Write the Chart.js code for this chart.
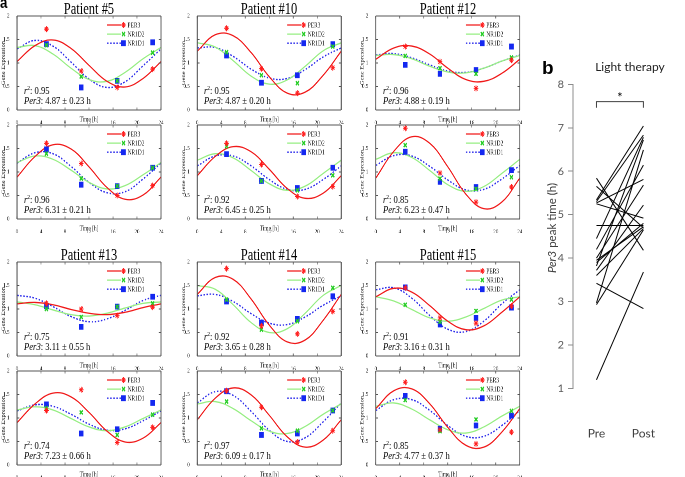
<!DOCTYPE html>
<html>
<head>
<meta charset="utf-8">
<script src="https://cdn.jsdelivr.net/npm/chart.js"></script>
<style>
  html, body { margin: 0; padding: 0; background: #fff; }
  body { width: 685px; height: 477px; position: relative; overflow: hidden; }
  #panelA { position: absolute; left: 0; top: 0; width: 667px; height: 477px; transform: scaleX(0.78); transform-origin: 0 0; }
  .abs { position: absolute; white-space: nowrap; }
  .serif { font-family: 'Liberation Serif', 'Times New Roman', serif; color: #000; }
  .title { font-size: 16px; line-height: 16px; text-align: center; }
  .note { font-size: 11px; line-height: 11px; }
  .sup { font-size: 7px; position: relative; top: -4px; }
  .lato { font-family: Lato, 'Open Sans', sans-serif; color: #404040; }
</style>
</head>
<body>
<div id="panelA"></div>
<div id="panelB" class="abs" style="left:0;top:0;width:685px;height:477px;"></div>
<script>
// ---- data (panels in row-major order: rows 1-2 = patients 5/10/12, rows 3-4 = 13/14/15)
const patientNames = ['Patient #5', 'Patient #10', 'Patient #12', 'Patient #13', 'Patient #14', 'Patient #15'];
const timeTicks = [0, 4, 8, 12, 16, 20, 24];
const sampleTimes = [4.9, 10.7, 16.7, 22.6];
const fitTimes = [0, 3, 6, 9, 12, 15, 18, 21, 24];

const r2Vals = ['0.95', '0.95', '0.96', '0.96', '0.92', '0.85', '0.75', '0.92', '0.91', '0.74', '0.97', '0.85'];
const per3Peak = ['4.87 ± 0.23', '4.87 ± 0.20', '4.88 ± 0.19', '6.31 ± 0.21', '6.45 ± 0.25', '6.23 ± 0.47',
                  '3.11 ± 0.55', '3.65 ± 0.28', '3.16 ± 0.31', '7.23 ± 0.66', '6.09 ± 0.17', '4.77 ± 0.37'];

const per3Pts = [
  [1.72, 0.83, 0.48, 0.87], [1.74, 0.88, 0.36, 0.90], [1.35, 1.03, 0.46, 1.06],
  [1.61, 1.18, 0.50, 0.71], [1.61, 1.16, 0.48, 0.69], [1.93, 0.98, 0.36, 0.68],
  [1.12, 1.00, 0.86, 1.04], [1.86, 0.64, 0.47, 0.95], [1.45, 0.81, 0.70, 1.06],
  [1.16, 1.60, 0.48, 0.80], [1.58, 1.23, 0.49, 0.73], [1.76, 0.75, 0.45, 0.70]
];
const nr1d2Pts = [
  [1.38, 0.71, 0.62, 1.22], [1.23, 0.74, 0.57, 1.35], [1.15, 0.89, 0.77, 1.12],
  [1.39, 0.86, 0.70, 1.09], [1.55, 0.81, 0.61, 0.93], [1.57, 0.86, 0.64, 0.89],
  [1.00, 0.83, 1.05, 1.12], [1.20, 0.56, 0.74, 1.45], [1.09, 0.73, 0.96, 1.20],
  [1.21, 1.12, 0.64, 1.07], [1.35, 0.78, 0.73, 1.16], [1.38, 0.72, 0.97, 1.15]
];
const nr1d1Pts = [
  [1.40, 0.48, 0.62, 1.44], [1.16, 0.58, 0.74, 1.40], [0.96, 0.77, 0.85, 1.35],
  [1.48, 0.73, 0.70, 1.09], [1.38, 0.81, 0.66, 1.09], [1.43, 0.79, 0.68, 1.04],
  [1.06, 0.62, 1.05, 1.26], [1.16, 0.71, 0.79, 1.27], [1.46, 0.67, 0.81, 1.03],
  [1.29, 0.67, 0.76, 1.32], [1.57, 0.64, 0.67, 1.16], [1.47, 0.77, 0.84, 1.05]
];

const per3Fit = [
  [1.03, 1.37, 1.49, 1.31, 0.95, 0.61, 0.49, 0.67, 1.03],
  [1.25, 1.60, 1.58, 1.22, 0.71, 0.36, 0.38, 0.74, 1.25],
  [1.08, 1.32, 1.36, 1.19, 0.89, 0.65, 0.61, 0.78, 1.08],
  [0.89, 1.33, 1.58, 1.49, 1.11, 0.67, 0.42, 0.51, 0.89],
  [0.92, 1.33, 1.54, 1.43, 1.06, 0.65, 0.44, 0.55, 0.92],
  [0.87, 1.44, 1.75, 1.61, 1.11, 0.53, 0.22, 0.36, 0.87],
  [1.11, 1.14, 1.09, 0.99, 0.91, 0.88, 0.93, 1.03, 1.11],
  [1.31, 1.67, 1.63, 1.21, 0.66, 0.30, 0.34, 0.76, 1.31],
  [1.26, 1.44, 1.36, 1.07, 0.74, 0.56, 0.64, 0.93, 1.26],
  [0.90, 1.30, 1.53, 1.45, 1.12, 0.72, 0.49, 0.57, 0.90],
  [0.96, 1.42, 1.64, 1.49, 1.06, 0.60, 0.38, 0.53, 0.96],
  [1.20, 1.58, 1.62, 1.30, 0.80, 0.42, 0.38, 0.70, 1.20]
];
const nr1d2Fit = [
  [1.33, 1.37, 1.19, 0.89, 0.65, 0.61, 0.80, 1.09, 1.33],
  [1.43, 1.34, 1.05, 0.72, 0.55, 0.64, 0.93, 1.26, 1.43],
  [1.16, 1.18, 1.09, 0.93, 0.81, 0.79, 0.89, 1.04, 1.16],
  [1.20, 1.34, 1.27, 1.04, 0.78, 0.64, 0.71, 0.94, 1.20],
  [1.25, 1.39, 1.30, 1.03, 0.75, 0.61, 0.70, 0.97, 1.25],
  [1.27, 1.41, 1.31, 1.03, 0.73, 0.59, 0.69, 0.97, 1.27],
  [1.15, 1.09, 0.98, 0.88, 0.85, 0.91, 1.02, 1.12, 1.15],
  [1.50, 1.42, 1.09, 0.71, 0.50, 0.58, 0.91, 1.29, 1.50],
  [1.26, 1.17, 0.99, 0.81, 0.74, 0.83, 1.01, 1.19, 1.26],
  [1.17, 1.24, 1.17, 0.99, 0.81, 0.73, 0.81, 0.99, 1.17],
  [1.30, 1.35, 1.20, 0.94, 0.72, 0.67, 0.82, 1.08, 1.30],
  [1.25, 1.32, 1.19, 0.96, 0.75, 0.68, 0.81, 1.04, 1.25]
];
const nr1d1Fit = [
  [1.30, 1.48, 1.36, 1.02, 0.66, 0.48, 0.60, 0.94, 1.30],
  [1.32, 1.33, 1.14, 0.87, 0.68, 0.67, 0.86, 1.13, 1.32],
  [1.17, 1.20, 1.11, 0.96, 0.83, 0.80, 0.89, 1.04, 1.17],
  [1.19, 1.41, 1.39, 1.12, 0.78, 0.56, 0.58, 0.85, 1.19],
  [1.13, 1.34, 1.34, 1.13, 0.84, 0.63, 0.63, 0.84, 1.13],
  [1.14, 1.35, 1.34, 1.12, 0.83, 0.62, 0.63, 0.85, 1.14],
  [1.29, 1.23, 1.05, 0.84, 0.73, 0.79, 0.97, 1.18, 1.29],
  [1.28, 1.31, 1.16, 0.90, 0.70, 0.67, 0.83, 1.08, 1.28],
  [1.41, 1.45, 1.23, 0.86, 0.57, 0.52, 0.74, 1.11, 1.41],
  [1.15, 1.28, 1.25, 1.08, 0.87, 0.74, 0.77, 0.94, 1.15],
  [1.32, 1.56, 1.48, 1.14, 0.74, 0.50, 0.58, 0.92, 1.32],
  [1.16, 1.39, 1.39, 1.16, 0.84, 0.61, 0.61, 0.84, 1.16]
];

// panel b: Per3 peak time per subject
const phaseLabels = ['Pre', 'Post'];
const prePeak  = [5.84, 5.65, 5.34, 5.30, 5.27, 5.25, 4.75, 4.45, 4.20, 4.00, 3.90, 3.82, 3.72, 3.60, 3.42, 2.97, 2.93, 1.20, 3.95];
const postPeak = [4.18, 4.70, 7.04, 6.83, 5.81, 4.92, 4.75, 6.78, 6.14, 5.68, 4.80, 6.72, 5.22, 4.68, 2.84, 6.49, 4.65, 3.68, 4.72];
const bracketLevel = 7.6;

// ---- layout (panel a is drawn squeezed horizontally, like the source figure)
const SQ = 0.78;
const colLeft = [17, 197, 376];
const rowTop = [16, 125, 262, 371];
const PW = 144, PH = 94;

const genes = [
  { name: 'PER3',  line: 'rgb(240,25,25)',   dash: [],     width: 1.3, mark: 'rgb(255,30,30)',  style: 'star',     r: 3,   bw: 1 },
  { name: 'NR1D2', line: 'rgb(150,238,130)', dash: [],     width: 1.3, mark: 'rgb(40,205,40)',  style: 'crossRot', r: 2.8, bw: 1.6 },
  { name: 'NR1D1', line: 'rgb(45,45,235)',   dash: [2, 2], width: 1.4, mark: 'rgb(20,40,240)',  style: 'rect',     r: 3.4, bw: 1 }
];

Chart.defaults.font.family = "'Liberation Serif', serif";
Chart.defaults.color = '#111';

const framePlugin = {
  id: 'frame',
  afterDatasetsDraw(chart) {
    const { ctx, chartArea: a, scales: { x, y } } = chart;
    ctx.save();
    ctx.strokeStyle = '#555';
    ctx.lineWidth = 1;
    ctx.beginPath();
    ctx.moveTo(a.left, a.top); ctx.lineTo(a.right, a.top);
    ctx.moveTo(a.left, a.bottom); ctx.lineTo(a.right, a.bottom);
    x.ticks.forEach(t => {
      const px = x.getPixelForValue(t.value);
      ctx.moveTo(px, a.bottom); ctx.lineTo(px, a.bottom - 2.5);
      ctx.moveTo(px, a.top); ctx.lineTo(px, a.top + 2.5);
    });
    ctx.stroke();
    ctx.lineWidth = 1.25;
    ctx.beginPath();
    ctx.moveTo(a.left, a.top); ctx.lineTo(a.left, a.bottom);
    ctx.moveTo(a.right, a.top); ctx.lineTo(a.right, a.bottom);
    ctx.stroke();
    ctx.lineWidth = 1;
    ctx.beginPath();
    y.ticks.forEach(t => {
      const py = y.getPixelForValue(t.value);
      ctx.moveTo(a.left, py); ctx.lineTo(a.left + 3, py);
      ctx.moveTo(a.right, py); ctx.lineTo(a.right - 3, py);
    });
    ctx.stroke();
    ctx.restore();
  }
};

const geneLegend = {
  id: 'geneLegend',
  afterDraw(chart) {
    const { ctx, chartArea: a } = chart;
    ctx.save();
    genes.forEach((g, k) => {
      const yy = a.top + 9 + k * 9.1;
      const x0 = a.left + 90 / SQ, x1 = a.left + 104 / SQ;
      ctx.strokeStyle = g.line; ctx.lineWidth = g.width; ctx.setLineDash(g.dash);
      ctx.beginPath(); ctx.moveTo(x0, yy); ctx.lineTo(x1, yy); ctx.stroke();
      ctx.setLineDash([]);
      ctx.strokeStyle = g.mark; ctx.fillStyle = g.mark; ctx.lineWidth = g.bw;
      Chart.helpers.drawPoint(ctx, { pointStyle: g.style, radius: g.r, rotation: 0, borderWidth: g.bw }, a.left + 106.5 / SQ, yy);
      ctx.fillStyle = '#222';
      ctx.font = "7px 'Liberation Serif'";
      ctx.textBaseline = 'middle';
      ctx.fillText(g.name, a.left + 110.5 / SQ, yy + 0.5);
    });
    ctx.restore();
  }
};

function addDiv(parent, cls, html, style) {
  const d = document.createElement('div');
  d.className = cls;
  d.innerHTML = html;
  Object.assign(d.style, style);
  parent.appendChild(d);
  return d;
}

const panelA = document.getElementById('panelA');
addDiv(panelA, 'abs', 'a', { left: '0px', top: '-6px', font: "bold 17px 'Liberation Sans', Arial, sans-serif", lineHeight: '17px' });

for (let i = 0; i < 12; i++) {
  const row = Math.floor(i / 3), col = i % 3;
  const pl = colLeft[col], pt = rowTop[row];
  const W = Math.round((17 + PW + 6) / SQ), H = 6 + PH + 14;
  const wrap = addDiv(panelA, 'abs', '', { left: ((pl - 17) / SQ) + 'px', top: (pt - 6) + 'px', width: W + 'px', height: H + 'px' });
  const cv = document.createElement('canvas');
  cv.width = W; cv.height = H;
  wrap.appendChild(cv);

  const pointSets = [per3Pts[i], nr1d2Pts[i], nr1d1Pts[i]].map((vals, k) => ({
    label: genes[k].name + ' data',
    data: sampleTimes.map((t, j) => ({ x: t, y: vals[j] })),
    showLine: false,
    pointStyle: genes[k].style,
    pointRadius: genes[k].r,
    pointBorderWidth: genes[k].bw,
    pointBorderColor: genes[k].mark,
    pointBackgroundColor: genes[k].mark
  }));
  const curveSets = [per3Fit[i], nr1d2Fit[i], nr1d1Fit[i]].map((vals, k) => ({
    label: genes[k].name,
    data: fitTimes.map((t, j) => ({ x: t, y: vals[j] })),
    borderColor: genes[k].line,
    borderWidth: genes[k].width,
    borderDash: genes[k].dash,
    pointRadius: 0,
    tension: 0.4,
    fill: false
  }));

  new Chart(cv, {
    type: 'line',
    data: { datasets: pointSets.concat(curveSets) },
    options: {
      responsive: false,
      animation: false,
      devicePixelRatio: 2,
      layout: { padding: { left: 0, top: 6, right: W - (17 + PW) / SQ, bottom: 0 } },
      plugins: { legend: { display: false }, tooltip: { enabled: false } },
      scales: {
        x: {
          type: 'linear', min: 0, max: 24,
          afterBuildTicks: s => { s.ticks = timeTicks.map(v => ({ value: v })); },
          afterFit: s => { s.height = 14; },
          grid: { display: false }, border: { display: false },
          ticks: { font: { size: 6.5 }, padding: 1, maxRotation: 0, color: '#222' },
          title: { display: true, text: 'Time [h]', font: { size: 7 }, padding: { top: 0, bottom: 0 }, color: '#222' }
        },
        y: {
          min: 0, max: 2,
          ticks: { stepSize: 0.5, font: { size: 6.5 }, padding: 1.5, color: '#222', callback: v => String(v) },
          afterFit: s => { s.width = 17 / SQ; },
          grid: { display: false }, border: { display: false },
          title: { display: true, text: 'Gene Expression', font: { size: 6.5 }, padding: { top: 0.5, bottom: 0 }, color: '#222' }
        }
      }
    },
    plugins: [framePlugin, geneLegend]
  });

  if (row === 0 || row === 2) {
    const name = patientNames[(row === 0 ? 0 : 3) + col];
    addDiv(panelA, 'abs serif title', name, { left: (pl / SQ) + 'px', width: (PW / SQ) + 'px', top: (pt - 14.6) + 'px' });
  }
  addDiv(panelA, 'abs serif note', '<i>r</i><span class="sup">2</span>: ' + r2Vals[i],
    { left: ((pl + 7) / SQ) + 'px', top: (pt + PH - 16 - 9.2) + 'px' });
  addDiv(panelA, 'abs serif note', '<i>Per3</i>: ' + per3Peak[i] + ' h',
    { left: ((pl + 7) / SQ) + 'px', top: (pt + PH - 6 - 9.2) + 'px' });
}

// ---- panel b
const panelB = document.getElementById('panelB');
addDiv(panelB, 'abs', 'b', { left: '542px', top: '58px', font: "bold 19px 'Liberation Sans', Arial, sans-serif", lineHeight: '19px', color: '#000' });
addDiv(panelB, 'abs lato', 'Light therapy', { left: '575px', width: '110px', textAlign: 'center', top: '60px', fontSize: '12px', lineHeight: '14px', color: '#222' });
addDiv(panelB, 'abs lato', '<i>Per3</i> peak time (h)', {
  left: (552 - 60) + 'px', top: (228 - 8) + 'px', width: '120px', height: '16px', lineHeight: '16px',
  textAlign: 'center', fontSize: '11.5px', transform: 'rotate(-90deg)', color: '#404040'
});

const wrapB = addDiv(panelB, 'abs', '', { left: '520px', top: '60px', width: '165px', height: '390px' });
const cvB = document.createElement('canvas');
cvB.width = 165; cvB.height = 390;
wrapB.appendChild(cvB);

const bracketPlugin = {
  id: 'bracket',
  afterDraw(chart) {
    const { ctx, scales: { x, y } } = chart;
    const x0 = x.getPixelForValue(0), x1 = x.getPixelForValue(1);
    const yb = y.getPixelForValue(bracketLevel), yl = y.getPixelForValue(bracketLevel - 0.14);
    ctx.save();
    ctx.strokeStyle = '#404040'; ctx.lineWidth = 1;
    ctx.beginPath();
    ctx.moveTo(x0, yl); ctx.lineTo(x0, yb); ctx.lineTo(x1, yb); ctx.lineTo(x1, yl);
    ctx.stroke();
    ctx.fillStyle = '#000';
    ctx.font = "13px Lato";
    ctx.textAlign = 'center';
    ctx.textBaseline = 'alphabetic';
    ctx.fillText('*', (x0 + x1) / 2, yb + 1);
    ctx.restore();
  }
};

new Chart(cvB, {
  type: 'line',
  data: {
    labels: phaseLabels,
    datasets: prePeak.map((v, i) => ({
      label: 'S' + (i + 1),
      data: [v, postPeak[i]],
      borderColor: '#000', borderWidth: 1, pointRadius: 0, fill: false
    }))
  },
  options: {
    responsive: false,
    animation: false,
    devicePixelRatio: 2,
    layout: { padding: { left: 0, top: 24.3, right: 0, bottom: 0 } },
    plugins: { legend: { display: false }, tooltip: { enabled: false } },
    scales: {
      x: {
        offset: true,
        afterFit: s => { s.height = 61.5; },
        grid: { display: false }, border: { display: false },
        ticks: { font: { family: 'Lato', size: 12 }, color: '#404040', padding: 30 }
      },
      y: {
        min: 1, max: 8,
        afterFit: s => { s.width = 53; },
        ticks: { stepSize: 1, font: { family: 'Lato', size: 11 }, color: '#595959', padding: 4 },
        grid: { display: true, drawOnChartArea: false, drawTicks: true, tickLength: 5, color: '#8c8c8c' },
        border: { display: true, color: '#8c8c8c' }
      }
    }
  },
  plugins: [bracketPlugin]
});
</script>
</body>
</html>
